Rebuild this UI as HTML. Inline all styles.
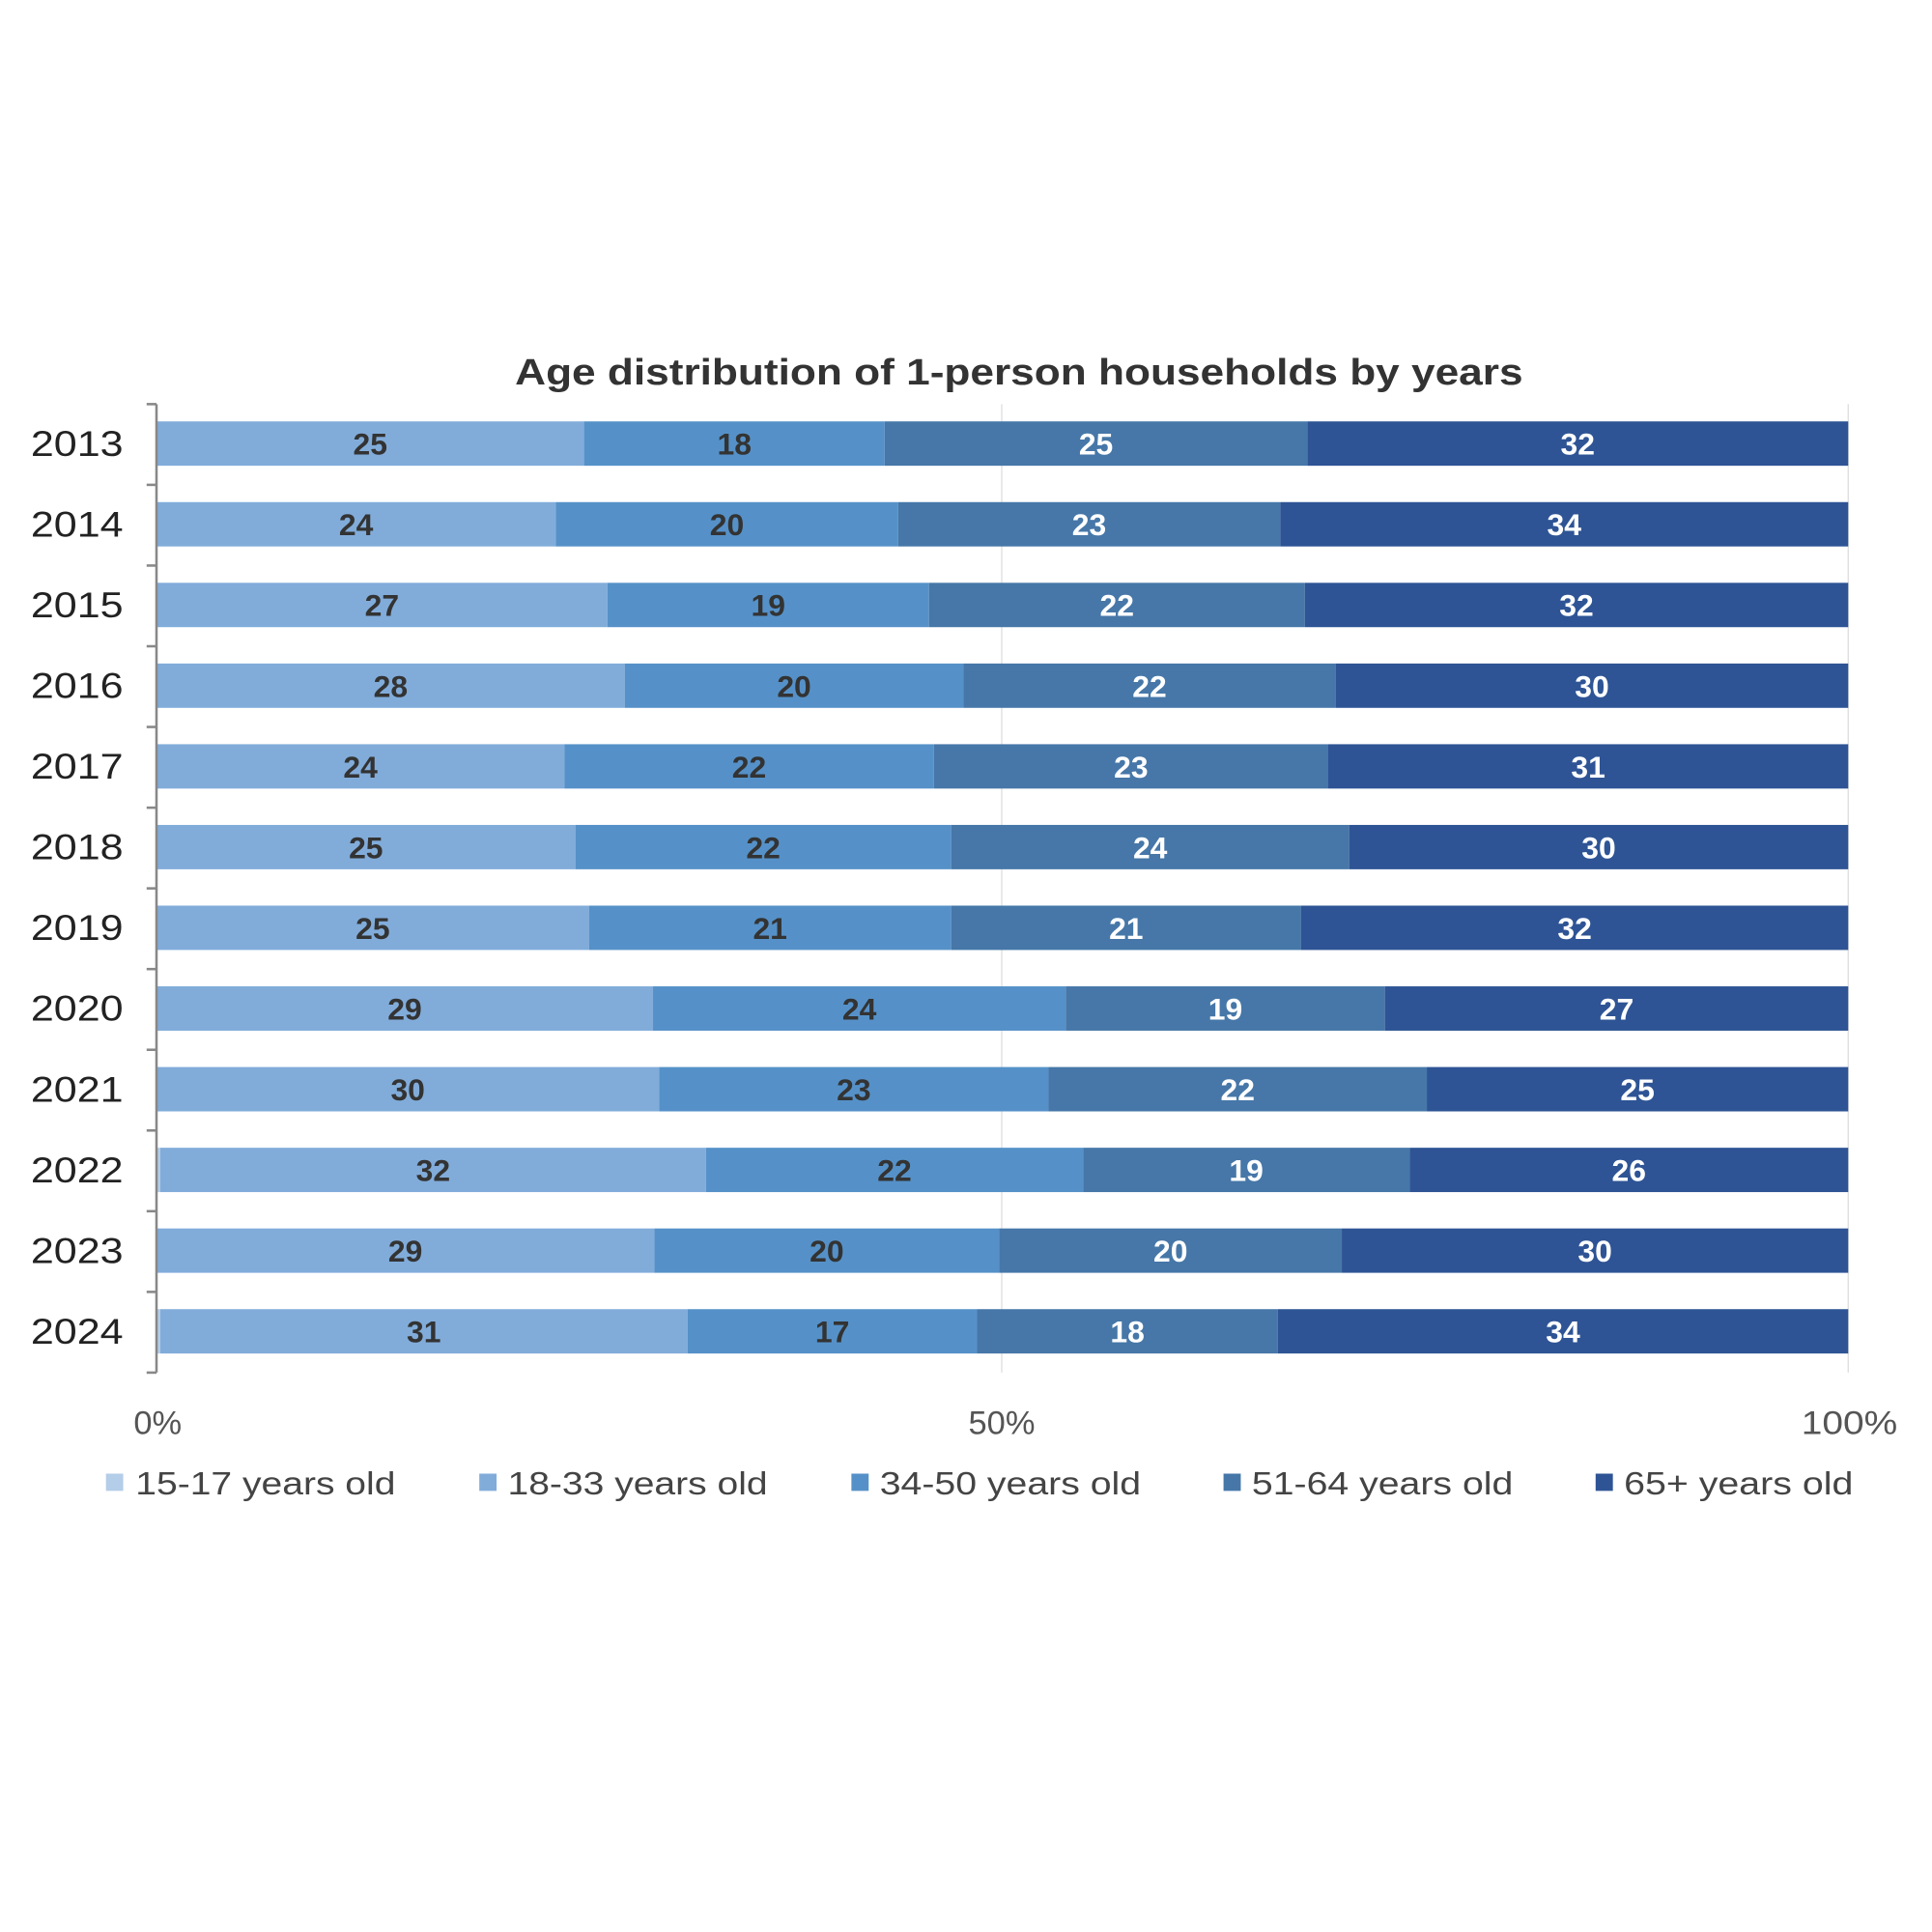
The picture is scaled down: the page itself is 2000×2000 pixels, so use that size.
<!DOCTYPE html>
<html><head><meta charset="utf-8"><style>
html,body{margin:0;padding:0;background:#fff;}
svg{display:block;}
text{font-family:"Liberation Sans",sans-serif;}
.y{font-size:29px;fill:#222;text-anchor:end;}
.v{font-size:25px;font-weight:bold;text-anchor:middle;}
.d{fill:#333;} .w{fill:#fff;}
.t{font-size:27px;fill:#555;text-anchor:middle;}
.l{font-size:26px;fill:#444;}
.a{fill:#81ACDA}.b{fill:#5591C8}.c{fill:#4677A8}.e{fill:#2E5495}.z{fill:#B4CDE8}
</style></head><body>
<svg width="2000" height="2000" viewBox="0 0 1568 1568" xmlns="http://www.w3.org/2000/svg">
<rect width="1568" height="1568" fill="#fff"/>
<text x="827" y="312" font-size="30" font-weight="bold" fill="#333" text-anchor="middle" textLength="818" lengthAdjust="spacingAndGlyphs">Age distribution of 1-person households by years</text>
<line x1="813" y1="328" x2="813" y2="1114" stroke="#ddd" stroke-width="1"/>
<line x1="1500" y1="328" x2="1500" y2="1114" stroke="#ddd" stroke-width="1"/>

<g>
<rect class="a" x="127" y="342" width="347" height="36"/><rect class="b" x="474" y="342" width="244" height="36"/><rect class="c" x="718" y="342" width="343" height="36"/><rect class="e" x="1061" y="342" width="439" height="36"/>
<rect class="a" x="127" y="407.5" width="324" height="36"/><rect class="b" x="451" y="407.5" width="278" height="36"/><rect class="c" x="729" y="407.5" width="310" height="36"/><rect class="e" x="1039" y="407.5" width="461" height="36"/>
<rect class="a" x="127" y="473" width="366" height="36"/><rect class="b" x="493" y="473" width="261" height="36"/><rect class="c" x="754" y="473" width="305" height="36"/><rect class="e" x="1059" y="473" width="441" height="36"/>
<rect class="a" x="127" y="538.5" width="380" height="36"/><rect class="b" x="507" y="538.5" width="275" height="36"/><rect class="c" x="782" y="538.5" width="302" height="36"/><rect class="e" x="1084" y="538.5" width="416" height="36"/>
<rect class="a" x="127" y="604" width="331" height="36"/><rect class="b" x="458" y="604" width="300" height="36"/><rect class="c" x="758" y="604" width="320" height="36"/><rect class="e" x="1078" y="604" width="422" height="36"/>
<rect class="a" x="127" y="669.5" width="340" height="36"/><rect class="b" x="467" y="669.5" width="305" height="36"/><rect class="c" x="772" y="669.5" width="323" height="36"/><rect class="e" x="1095" y="669.5" width="405" height="36"/>
<rect class="a" x="127" y="735" width="351" height="36"/><rect class="b" x="478" y="735" width="294" height="36"/><rect class="c" x="772" y="735" width="284" height="36"/><rect class="e" x="1056" y="735" width="444" height="36"/>
<rect class="a" x="127" y="800.5" width="403" height="36"/><rect class="b" x="530" y="800.5" width="335" height="36"/><rect class="c" x="865" y="800.5" width="259" height="36"/><rect class="e" x="1124" y="800.5" width="376" height="36"/>
<rect class="a" x="127" y="866" width="408" height="36"/><rect class="b" x="535" y="866" width="316" height="36"/><rect class="c" x="851" y="866" width="307" height="36"/><rect class="e" x="1158" y="866" width="342" height="36"/>
<rect class="z" x="127" y="931.5" width="3" height="36"/><rect class="a" x="130" y="931.5" width="443" height="36"/><rect class="b" x="573" y="931.5" width="306" height="36"/><rect class="c" x="879" y="931.5" width="265" height="36"/><rect class="e" x="1144" y="931.5" width="356" height="36"/>
<rect class="a" x="127" y="997" width="404" height="36"/><rect class="b" x="531" y="997" width="280" height="36"/><rect class="c" x="811" y="997" width="278" height="36"/><rect class="e" x="1089" y="997" width="411" height="36"/>
<rect class="z" x="127" y="1062.5" width="3" height="36"/><rect class="a" x="130" y="1062.5" width="428" height="36"/><rect class="b" x="558" y="1062.5" width="235" height="36"/><rect class="c" x="793" y="1062.5" width="244" height="36"/><rect class="e" x="1037" y="1062.5" width="463" height="36"/>
</g>

<g>
<text class="v d" x="300.5" y="369">25</text><text class="v d" x="596" y="369">18</text><text class="v w" x="889.5" y="369">25</text><text class="v w" x="1280.5" y="369">32</text>
<text class="v d" x="289" y="434.5">24</text><text class="v d" x="590" y="434.5">20</text><text class="v w" x="884" y="434.5">23</text><text class="v w" x="1269.5" y="434.5">34</text>
<text class="v d" x="310" y="500">27</text><text class="v d" x="623.5" y="500">19</text><text class="v w" x="906.5" y="500">22</text><text class="v w" x="1279.5" y="500">32</text>
<text class="v d" x="317" y="565.5">28</text><text class="v d" x="644.5" y="565.5">20</text><text class="v w" x="933" y="565.5">22</text><text class="v w" x="1292" y="565.5">30</text>
<text class="v d" x="292.5" y="631">24</text><text class="v d" x="608" y="631">22</text><text class="v w" x="918" y="631">23</text><text class="v w" x="1289" y="631">31</text>
<text class="v d" x="297" y="696.5">25</text><text class="v d" x="619.5" y="696.5">22</text><text class="v w" x="933.5" y="696.5">24</text><text class="v w" x="1297.5" y="696.5">30</text>
<text class="v d" x="302.5" y="762">25</text><text class="v d" x="625" y="762">21</text><text class="v w" x="914" y="762">21</text><text class="v w" x="1278" y="762">32</text>
<text class="v d" x="328.5" y="827.5">29</text><text class="v d" x="697.5" y="827.5">24</text><text class="v w" x="994.5" y="827.5">19</text><text class="v w" x="1312" y="827.5">27</text>
<text class="v d" x="331" y="893">30</text><text class="v d" x="693" y="893">23</text><text class="v w" x="1004.5" y="893">22</text><text class="v w" x="1329" y="893">25</text>
<text class="v d" x="351.5" y="958.5">32</text><text class="v d" x="726" y="958.5">22</text><text class="v w" x="1011.5" y="958.5">19</text><text class="v w" x="1322" y="958.5">26</text>
<text class="v d" x="329" y="1024">29</text><text class="v d" x="671" y="1024">20</text><text class="v w" x="950" y="1024">20</text><text class="v w" x="1294.5" y="1024">30</text>
<text class="v d" x="344" y="1089.5">31</text><text class="v d" x="675.5" y="1089.5">17</text><text class="v w" x="915" y="1089.5">18</text><text class="v w" x="1268.5" y="1089.5">34</text>
</g>

<g>
<text class="y" x="100" y="370" textLength="75" lengthAdjust="spacingAndGlyphs">2013</text>
<text class="y" x="100" y="435.5" textLength="75" lengthAdjust="spacingAndGlyphs">2014</text>
<text class="y" x="100" y="501" textLength="75" lengthAdjust="spacingAndGlyphs">2015</text>
<text class="y" x="100" y="566.5" textLength="75" lengthAdjust="spacingAndGlyphs">2016</text>
<text class="y" x="100" y="632" textLength="75" lengthAdjust="spacingAndGlyphs">2017</text>
<text class="y" x="100" y="697.5" textLength="75" lengthAdjust="spacingAndGlyphs">2018</text>
<text class="y" x="100" y="763" textLength="75" lengthAdjust="spacingAndGlyphs">2019</text>
<text class="y" x="100" y="828.5" textLength="75" lengthAdjust="spacingAndGlyphs">2020</text>
<text class="y" x="100" y="894" textLength="75" lengthAdjust="spacingAndGlyphs">2021</text>
<text class="y" x="100" y="959.5" textLength="75" lengthAdjust="spacingAndGlyphs">2022</text>
<text class="y" x="100" y="1025" textLength="75" lengthAdjust="spacingAndGlyphs">2023</text>
<text class="y" x="100" y="1090.5" textLength="75" lengthAdjust="spacingAndGlyphs">2024</text>
</g>

<line x1="127" y1="328" x2="127" y2="1114" stroke="#888" stroke-width="2"/>
<g stroke="#888" stroke-width="2">
<line x1="119" y1="328" x2="127" y2="328"/><line x1="119" y1="393.5" x2="127" y2="393.5"/><line x1="119" y1="459" x2="127" y2="459"/><line x1="119" y1="524.5" x2="127" y2="524.5"/><line x1="119" y1="590" x2="127" y2="590"/><line x1="119" y1="655.5" x2="127" y2="655.5"/><line x1="119" y1="721" x2="127" y2="721"/><line x1="119" y1="786.5" x2="127" y2="786.5"/><line x1="119" y1="852" x2="127" y2="852"/><line x1="119" y1="917.5" x2="127" y2="917.5"/><line x1="119" y1="983" x2="127" y2="983"/><line x1="119" y1="1048.5" x2="127" y2="1048.5"/><line x1="119" y1="1114" x2="127" y2="1114"/>
</g>
<text class="t" x="128" y="1164">0%</text>
<text class="t" x="813" y="1164">50%</text>
<text class="t" x="1501" y="1164" textLength="78" lengthAdjust="spacingAndGlyphs">100%</text>
<rect x="86" y="1196" width="14" height="14" fill="#B4CDE8"/><text class="l" x="110" y="1213" textLength="211" lengthAdjust="spacingAndGlyphs">15-17 years old</text>
<rect x="389" y="1196" width="14" height="14" fill="#81ACDA"/><text class="l" x="412" y="1213" textLength="211" lengthAdjust="spacingAndGlyphs">18-33 years old</text>
<rect x="691" y="1196" width="14" height="14" fill="#5591C8"/><text class="l" x="714" y="1213" textLength="212" lengthAdjust="spacingAndGlyphs">34-50 years old</text>
<rect x="993" y="1196" width="14" height="14" fill="#4677A8"/><text class="l" x="1016" y="1213" textLength="212" lengthAdjust="spacingAndGlyphs">51-64 years old</text>
<rect x="1295" y="1196" width="14" height="14" fill="#2E5495"/><text class="l" x="1318" y="1213" textLength="186" lengthAdjust="spacingAndGlyphs">65+ years old</text>
</svg>
</body></html>
